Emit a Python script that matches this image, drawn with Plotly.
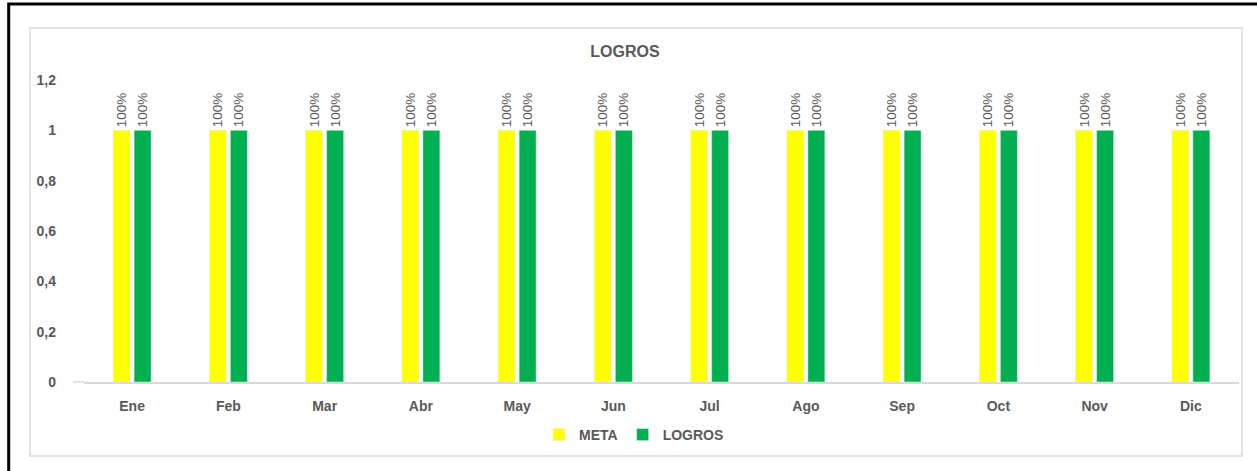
import plotly.graph_objects as go

months = ["Ene", "Feb", "Mar", "Abr", "May", "Jun", "Jul", "Ago", "Sep", "Oct", "Nov", "Dic"]
meta = [1, 1, 1, 1, 1, 1, 1, 1, 1, 1, 1, 1]
logros = [1, 1, 1, 1, 1, 1, 1, 1, 1, 1, 1, 1]
meta_labels = ["100%"] * 12
logros_labels = ["100%"] * 12
y_ticks = [0, 0.2, 0.4, 0.6, 0.8, 1, 1.2]
y_tick_text = ["0", "0,2", "0,4", "0,6", "0,8", "1", "1,2"]

W, H = 1257, 471
L, R, T, B = 84, 18, 80, 89
PW, PH = W - L - R, H - T - B

def px_x(x):
    return (x - L) / PW

def px_y(y):
    return (H - B - y) / PH

gray = "#595959"
font_family = "Liberation Sans, Arial, sans-serif"

fig = go.Figure()
fig.add_trace(go.Bar(
    x=months, y=meta, name="<b>META</b>", marker_color="#FFFF00",
    text=meta_labels, textposition="outside", textangle=-90,
    textfont=dict(size=13.5, color=gray, family=font_family), cliponaxis=False,
))
fig.add_trace(go.Bar(
    x=months, y=logros, name="<b>LOGROS</b>", marker_color="#00B050",
    text=logros_labels, textposition="outside", textangle=-90,
    textfont=dict(size=13.5, color=gray, family=font_family), cliponaxis=False,
))

fig.update_layout(
    width=W, height=H,
    margin=dict(l=L, r=R, t=T, b=B),
    paper_bgcolor="white", plot_bgcolor="white",
    barmode="group", bargap=0.564, bargroupgap=0.19,
    uniformtext=dict(minsize=13, mode="show"),
    font=dict(family=font_family, color=gray),
    title=dict(text="<b>LOGROS</b>", x=px_x(625), xref="paper", xanchor="center",
               y=1 - 51 / H, yanchor="middle", font=dict(size=16, color=gray, family=font_family)),
    legend=dict(orientation="h", x=px_x(634), xanchor="center", y=px_y(435), yanchor="middle",
                font=dict(size=14, color=gray, family=font_family), traceorder="normal",
                itemwidth=30),
    showlegend=True,
)
fig.update_xaxes(showgrid=False, showline=True, linecolor="#d9d9d9", linewidth=1.5,
                 tickvals=months, ticktext=["<b>%s</b>" % m for m in months],
                 tickfont=dict(size=14, color=gray, family=font_family),
                 ticklabelstandoff=10, ticks="")
fig.update_yaxes(range=[0, 1.2], tickvals=y_ticks, ticktext=["<b>%s</b>" % t for t in y_tick_text],
                 showgrid=False, zeroline=False, showline=False,
                 tickfont=dict(size=14, color=gray, family=font_family), ticklabelstandoff=27)

# baseline extends a bit left of the first category slot
fig.add_shape(type="line", xref="paper", yref="paper",
              x0=px_x(73), x1=px_x(84), y0=0, y1=0,
              line=dict(color="#d9d9d9", width=1.5))
# inner light-gray chart frame
fig.add_shape(type="rect", xref="paper", yref="paper",
              x0=px_x(30), x1=px_x(1242), y0=px_y(456), y1=px_y(28),
              line=dict(color="#d9d9d9", width=1.5), layer="below")
# outer black border (top and left visible)
fig.add_shape(type="rect", xref="paper", yref="paper",
              x0=px_x(8.7), x1=px_x(1300), y0=px_y(520), y1=px_y(4),
              line=dict(color="black", width=3), layer="above")

fig.write_html("out.html", config={"displayModeBar": False},
               post_script="document.body.style.margin='0';document.body.style.overflow='hidden';")
